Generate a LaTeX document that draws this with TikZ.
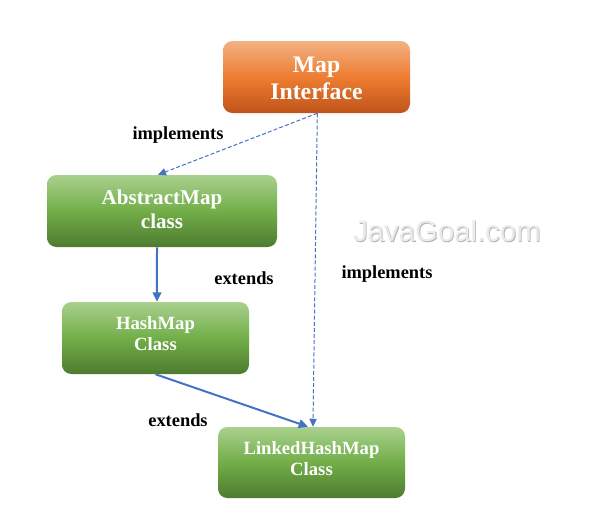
\documentclass[tikz,border=0pt]{standalone}
\usepackage{fontspec}
\setmainfont{Liberation Serif}
\newfontfamily\wmfont{Liberation Sans}
\usetikzlibrary{arrows.meta}
\definecolor{orT}{HTML}{F4B183}
\definecolor{orM}{HTML}{ED7D31}
\definecolor{orB}{HTML}{C0541A}
\definecolor{grT}{HTML}{A9D18E}
\definecolor{grM}{HTML}{72AE48}
\definecolor{grB}{HTML}{4E7B30}
\definecolor{arr}{HTML}{4472C4}
\tikzset{
  box/.style={rounded corners=7pt, inner sep=0pt},
  boxtext/.style={align=center, text=white, inner sep=0pt},
  orangebox/.style={box, top color=orT, bottom color=orB, middle color=orM},
  greenbox/.style={box, top color=grT, bottom color=grB, middle color=grM},
  lbl/.style={font=\bfseries\fontsize{13.8}{16}\selectfont, text=black},
  solidarrow/.style={draw=arr, line width=1.5pt, -{Triangle[length=7pt,width=6.5pt]}},
  dasharrow/.style={draw=arr, line width=0.75pt, dash pattern=on 3pt off 1.6pt, -{Triangle[length=6pt,width=5.5pt]}}
}
\begin{document}
\begin{tikzpicture}[x=0.75pt,y=-0.75pt]
\useasboundingbox (0,0) rectangle (605,522);
\node[orangebox, minimum width=140.25pt, minimum height=54pt] (map) at (316.5,77) {};
\node[greenbox, minimum width=172.5pt, minimum height=54pt] (abs) at (162,211) {};
\node[greenbox, minimum width=140.25pt, minimum height=54pt] (hash) at (155.5,338) {};
\node[greenbox, minimum width=140.25pt, minimum height=53.25pt] (linked) at (311.5,462.5) {};

\node[boxtext, font=\bfseries\fontsize{17.8}{20.3}\selectfont] (mapt) at ([yshift=-1.2pt]map.center) {Map\\Interface};
\node[boxtext, font=\bfseries\fontsize{15.8}{18}\selectfont] (abst) at ([yshift=1.5pt]abs.center) {AbstractMap\\class};
\node[boxtext, font=\bfseries\fontsize{14}{15.75}\selectfont] (hasht) at ([yshift=3pt]hash.center) {HashMap\\Class};
\node[boxtext, font=\bfseries\fontsize{14}{15.75}\selectfont] (linkedt) at ([yshift=2.8pt]linked.center) {LinkedHashMap\\Class};

\node[lbl] (l1) at (178,135.5) {implements};
\node[lbl] (l2) at (244,278) {extends};
\node[lbl] (l3) at (387,274.5) {implements};
\node[lbl] (l4) at (178,420) {extends};

\node[font=\wmfont\fontsize{22}{24}\selectfont, text=black!30] (wm0) at (447.8,232.3) {JavaGoal.com};
\node[font=\wmfont\fontsize{22}{24}\selectfont, text=black!8] (wm) at (447,231.5) {JavaGoal.com};

\draw[dasharrow] ([xshift=0.6pt]map.south) -- ([xshift=-3pt]abs.north);
\draw[dasharrow] ([xshift=0.6pt]map.south) -- ([xshift=1.1pt]linked.north);
\draw[solidarrow] ([xshift=-3.75pt]abs.south) -- ([xshift=1.1pt]hash.north);
\draw[solidarrow] (hash.south) -- ([xshift=-2.6pt]linked.north);
\end{tikzpicture}
\end{document}
